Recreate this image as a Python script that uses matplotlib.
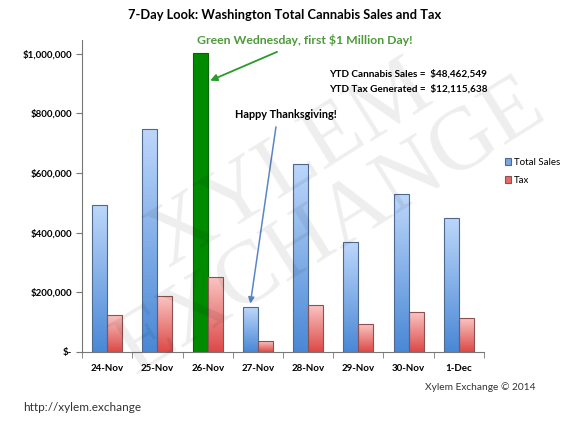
import matplotlib.pyplot as plt
import numpy as np
from matplotlib.colors import LinearSegmentedColormap
from matplotlib.ticker import FuncFormatter

plt.rcParams['font.family'] = ['Lato', 'DejaVu Sans']

# dados
dias = ['24-Nov', '25-Nov', '26-Nov', '27-Nov', '28-Nov', '29-Nov', '30-Nov', '1-Dec']
vendas = [493000, 748000, 1004000, 149000, 630000, 368000, 530000, 449000]
impostos = [124000, 186000, 251000, 36000, 157000, 92000, 133000, 112000]
dia_verde = '26-Nov'
dia_gracas = '27-Nov'

fig = plt.figure(figsize=(5.7, 4.28), dpi=100)
ax = fig.add_axes([0.144, 0.178, 0.705, 0.729])

x = np.arange(len(dias))
w = 0.3

azul = LinearSegmentedColormap.from_list('azul', ['#4a88d6', '#bcd6fa'])
verm = LinearSegmentedColormap.from_list('verm', ['#dc4a48', '#f9c4c2'])
grad = np.linspace(0, 1, 64).reshape(-1, 1)

barras_v = ax.bar(x - w / 2, vendas, w, color='#8ab4ea', edgecolor='#4d6a8e', linewidth=0.8, zorder=2)
barras_i = ax.bar(x + w / 2, impostos, w, color='#ee8886', edgecolor='#8e5050', linewidth=0.8, zorder=2)

# degradê dentro das barras
for barras, cmap in [(barras_v, azul), (barras_i, verm)]:
    for i, b in enumerate(barras):
        if barras is barras_v and dias[i] == dia_verde:
            b.set_facecolor('#008a00')
            b.set_edgecolor('#006600')
            continue
        x0 = b.get_x()
        im = ax.imshow(grad, cmap=cmap, aspect='auto', origin='lower',
                       extent=(x0, x0 + b.get_width(), 0, b.get_height()), zorder=2.5)
        im.set_clip_path(b)
        b.set_zorder(3)
        b.set_facecolor('none')

ax.set_xlim(-0.5, len(dias) - 0.5)
ax.set_ylim(0, 1047000)
ax.set_yticks(range(0, 1000001, 200000))
ax.yaxis.set_major_formatter(FuncFormatter(lambda v, p: '$-' if v == 0 else f'${v:,.0f}'))
ax.set_xticks(x)
ax.set_xticklabels(dias)
ax.set_xticks(np.arange(-0.5, len(dias), 1), minor=True)
ax.tick_params(axis='x', which='major', length=0, pad=9)
ax.tick_params(axis='x', which='minor', length=4, color='#777777', direction='out')
ax.tick_params(axis='y', length=4, color='#777777', direction='out', pad=3)
for lab in ax.get_xticklabels() + ax.get_yticklabels():
    lab.set_fontsize(7)
    lab.set_fontweight('bold')
for s in ['top', 'right']:
    ax.spines[s].set_visible(False)
for s in ['left', 'bottom']:
    ax.spines[s].set_color('#777777')
    ax.spines[s].set_linewidth(0.8)

fig.suptitle('7-Day Look: Washington Total Cannabis Sales and Tax', x=0.5, y=0.978,
             fontsize=9.3, fontweight='bold')

# anotações
iv = dias.index(dia_verde)
ax.annotate('Green Wednesday, first $1 Million Day!', xy=(iv - w / 2 + 0.2, 910000),
            xytext=(iv + 1.94, 1047000), textcoords='data',
            fontsize=8.8, fontweight='bold', color='#4e9a3a', ha='center', va='center',
            arrowprops=dict(arrowstyle='-|>', color='#2a9a2a', lw=1.3,
                            shrinkA=6, shrinkB=0, mutation_scale=10),
            annotation_clip=False)
ig = dias.index(dia_gracas)
ax.annotate('', xy=(ig - w / 2, 162000), xytext=(ig + 0.36, 755000),
            arrowprops=dict(arrowstyle='-|>', color='#5b86c4', lw=1.1,
                            shrinkA=0, shrinkB=0, mutation_scale=9))
ax.text(ig - 0.46, 795000, 'Happy Thanksgiving!', fontsize=7.8, fontweight='bold',
        ha='left', va='center')

fig.text(0.578, 0.820, 'YTD Cannabis Sales =  $48,462,549', fontsize=7.2, fontweight='bold')
fig.text(0.578, 0.785, 'YTD Tax Generated =  $12,115,638', fontsize=7.2, fontweight='bold')

leg = ax.legend([barras_v[0], barras_i[0]], ['Total Sales', 'Tax'], loc='center left',
                bbox_to_anchor=(0.87, 0.6), bbox_transform=fig.transFigure, frameon=False,
                fontsize=7, handlelength=0.7, handleheight=0.7, handletextpad=0.3,
                labelspacing=0.9)
leg.legend_handles[0].set_facecolor('#7aa6e0')
leg.legend_handles[0].set_edgecolor('#4d6a8e')
leg.legend_handles[1].set_facecolor('#e66a68')
leg.legend_handles[1].set_edgecolor('#8e5050')

fig.text(0.745, 0.088, 'Xylem Exchange © 2014', fontsize=7.3, color='#333333')
fig.text(0.04, 0.04, 'http://xylem.exchange', fontsize=8.5, color='#333333')

# marca d'água
fig.text(0.51, 0.615, 'XYLEM', fontsize=64, family='Liberation Serif', color='#000000',
         alpha=0.07, rotation=32, ha='center', va='center')
fig.text(0.58, 0.47, 'EXCHANGE', fontsize=64, family='Liberation Serif', color='#000000',
         alpha=0.07, rotation=32, ha='center', va='center')

plt.savefig('out.png', dpi=100)
